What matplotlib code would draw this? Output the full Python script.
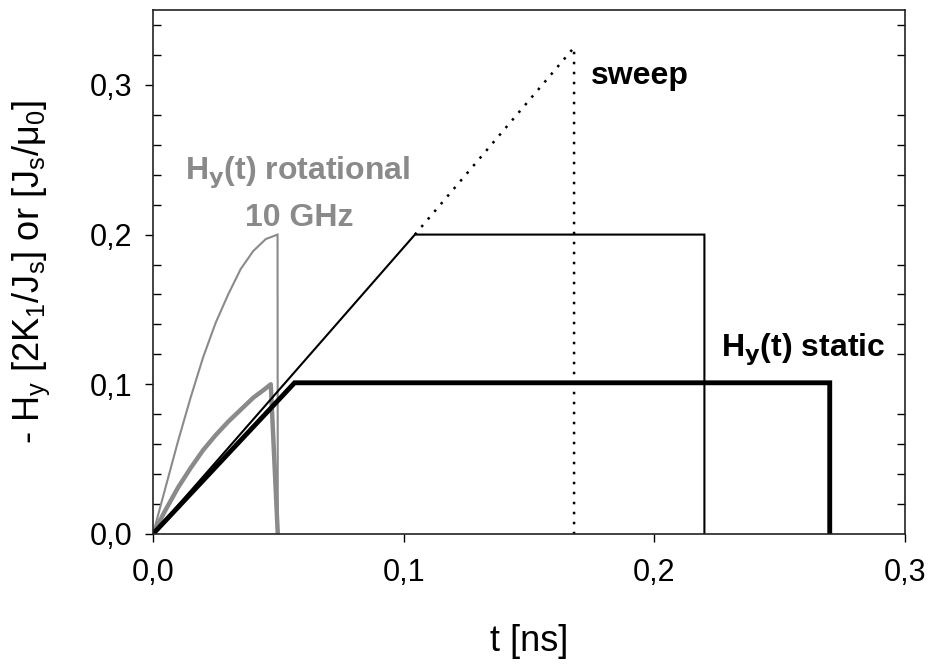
import numpy as np
import matplotlib
matplotlib.use("Agg")
import matplotlib.pyplot as plt
from matplotlib.ticker import MultipleLocator, FuncFormatter

plt.rcParams["font.family"] = ["Liberation Sans", "DejaVu Sans"]
plt.rcParams["mathtext.fontset"] = "custom"
plt.rcParams["mathtext.rm"] = "Liberation Sans"

# -------------------------------------------------------------------------
# DATA
# -------------------------------------------------------------------------
# static field pulse (thick black)
static_t = [0.0, 0.0565, 0.270, 0.270]
static_h = [0.0, 0.101, 0.101, 0.0]

# stronger ramp (thin black)
ramp_t = [0.0, 0.1045, 0.220, 0.220]
ramp_h = [0.0, 0.200, 0.200, 0.0]

# sweep continuation (dotted)
sweep_t = [0.1045, 0.168, 0.168]
sweep_h = [0.200, 0.325, 0.0]

# rotational 10 GHz, amplitude 0.2 (thin gray)
rot_thin_t = [0.0, 0.005, 0.010, 0.015, 0.020, 0.025, 0.030, 0.035,
              0.040, 0.045, 0.0497, 0.0498]
rot_thin_h = [0.0, 0.031, 0.062, 0.091, 0.118, 0.141, 0.160, 0.177,
              0.189, 0.197, 0.200, 0.0]

# rotational 10 GHz, amplitude 0.1 (thick gray)
rot_thick_t = [0.0, 0.005, 0.010, 0.015, 0.020, 0.025, 0.030, 0.035,
               0.040, 0.044, 0.047, 0.0498]
rot_thick_h = [0.0, 0.016, 0.031, 0.044, 0.056, 0.066, 0.075, 0.083,
               0.091, 0.096, 0.100, 0.0]

x_ticks = [0.0, 0.1, 0.2, 0.3]
y_ticks = [0.0, 0.1, 0.2, 0.3]

GRAY = "#8a8a8a"

# -------------------------------------------------------------------------
# PLOT
# -------------------------------------------------------------------------
fig = plt.figure(figsize=(9.31, 6.68), dpi=100)
ax = fig.add_axes([0.1643, 0.2006, 0.8077, 0.7844])

ax.plot(rot_thin_t, rot_thin_h, color=GRAY, lw=1.5, solid_joinstyle="miter")
ax.plot(rot_thick_t, rot_thick_h, color=GRAY, lw=3.2)
ax.plot(ramp_t, ramp_h, color="black", lw=1.5, solid_joinstyle="miter")
ax.plot(static_t, static_h, color="black", lw=3.5, solid_joinstyle="miter")
ax.plot(sweep_t, sweep_h, color="black", lw=1.8, linestyle=(0, (1, 3)))

ax.text(0.0578, 0.2373, r"H$_\mathbf{y}$(t) rotational", color=GRAY,
        fontsize=23, fontweight="bold", ha="center", va="baseline")
ax.text(0.0585, 0.206, "10 GHz", color=GRAY,
        fontsize=23, fontweight="bold", ha="center", va="baseline")
ax.text(0.1749, 0.3007, "sweep", color="black",
        fontsize=23, fontweight="bold", ha="left", va="baseline")
ax.text(0.2267, 0.1193, r"H$_\mathbf{y}$(t) static", color="black",
        fontsize=23, fontweight="bold", ha="left", va="baseline")

ax.set_xlim(0, 0.3)
ax.set_ylim(0, 0.35)
ax.set_xticks(x_ticks)
ax.set_yticks(y_ticks)
ax.yaxis.set_minor_locator(MultipleLocator(0.02))
comma = FuncFormatter(lambda v, p: f"{v:.1f}".replace(".", ","))
ax.xaxis.set_major_formatter(comma)
ax.yaxis.set_major_formatter(comma)

ax.tick_params(axis="both", which="major", direction="out", length=6,
               width=1, labelsize=22)
ax.tick_params(axis="x", which="major", pad=11)
ax.tick_params(axis="y", which="major", pad=9)
ax.tick_params(axis="y", which="minor", direction="in", length=6,
               width=1, left=True, right=True)

for s in ax.spines.values():
    s.set_linewidth(1.2)
    s.set_color("#222222")

ax.set_xlabel("t [ns]", fontsize=26, labelpad=26)
ax.set_ylabel(r"- H$_\mathregular{y}$ [2K$_\mathregular{1}$/J$_\mathregular{s}$] or "
              r"[J$_\mathregular{s}$/μ$_\mathregular{0}$]", fontsize=26, labelpad=27)

fig.savefig("out.png", dpi=100)
